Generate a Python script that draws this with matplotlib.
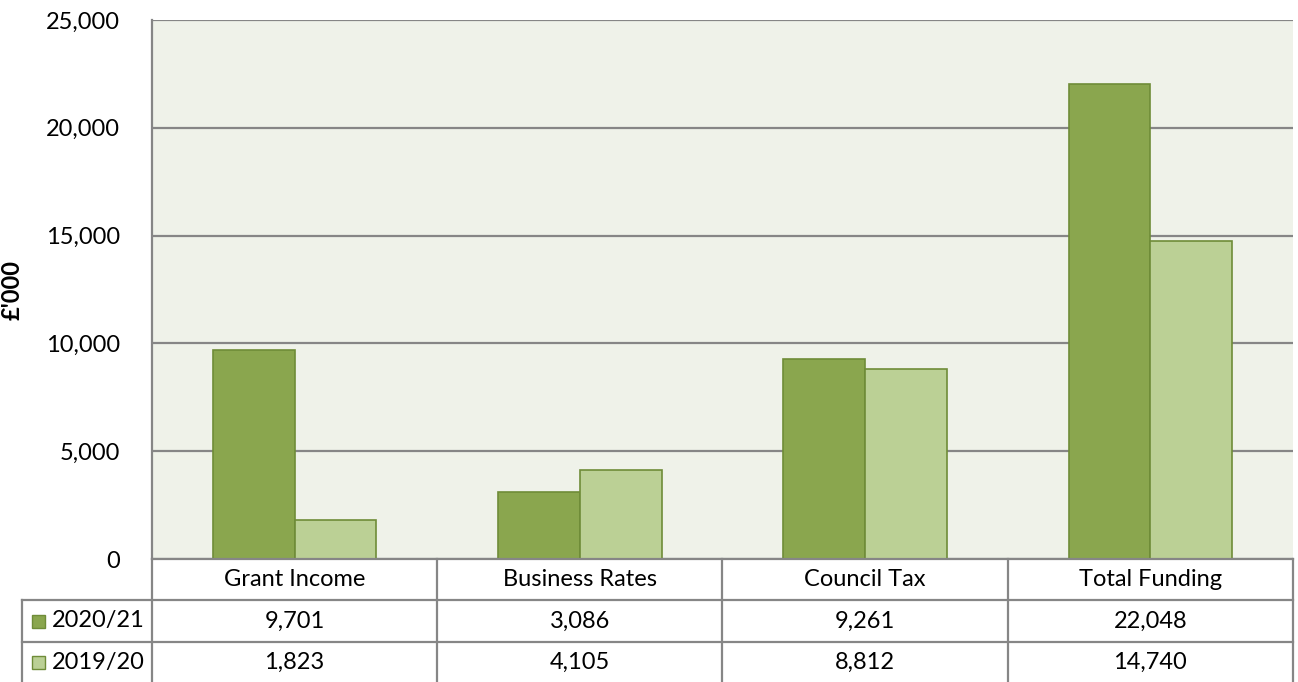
import numpy as np
import matplotlib.pyplot as plt
from matplotlib.patches import Rectangle

# chart data
categories = ['Grant Income', 'Business Rates', 'Council Tax', 'Total Funding']
series_names = ['2020/21', '2019/20']
values_2021 = [9701, 3086, 9261, 22048]
values_1920 = [1823, 4105, 8812, 14740]
y_ticks = [0, 5000, 10000, 15000, 20000, 25000]

dark_green = '#8AA64E'
light_green = '#BBD095'
bar_edge = '#6F8C38'
line_grey = '#868686'
plot_bg = '#EFF2E9'
fs = 17

plt.rcParams['font.family'] = ['Lato', 'DejaVu Sans']

W, H = 1298, 682
fig = plt.figure(figsize=(W / 100, H / 100), dpi=100)

# pixel layout of the plot area
px_left, px_right, px_top, px_bottom = 152, 1293, 20, 559
ax = fig.add_axes([px_left / W, 1 - px_bottom / H,
                   (px_right - px_left) / W, (px_bottom - px_top) / H])
ax.set_facecolor(plot_bg)

x = np.arange(len(categories))
bw = 0.287
ax.bar(x - bw / 2, values_2021, bw, color=dark_green, edgecolor=bar_edge, linewidth=1.2, zorder=3)
ax.bar(x + bw / 2, values_1920, bw, color=light_green, edgecolor=bar_edge, linewidth=1.2, zorder=3)

ax.set_xlim(-0.5, len(categories) - 0.5)
ax.set_ylim(0, 25000)
ax.set_yticks(y_ticks)
ax.set_yticklabels([f'{v:,}' for v in y_ticks], fontsize=fs, color='black')
ax.set_xticks([])
ax.tick_params(axis='y', length=0, pad=23)
ax.grid(axis='y', color=line_grey, linewidth=1.6, zorder=1)
for s in ['right', 'top', 'bottom']:
    ax.spines[s].set_visible(False)
ax.spines['left'].set_color(line_grey)
ax.spines['left'].set_linewidth(1.6)
ax.set_ylabel("£'000", fontsize=fs, fontweight='bold')
ax.yaxis.set_label_coords((24 - px_left) / (px_right - px_left), 0.5)

# data table below the plot
tbl_left, tbl_bottom = 22, 682
tax = fig.add_axes([tbl_left / W, 0, (px_right - tbl_left) / W, (tbl_bottom - px_bottom) / H])
unit = (px_right - px_left) / len(categories)
xl = -0.5 - (px_left - tbl_left) / unit
tax.set_xlim(xl, len(categories) - 0.5)
tax.set_ylim(tbl_bottom - px_bottom, 0)
tax.axis('off')

lkw = dict(color=line_grey, linewidth=1.6, clip_on=False)
row_y = [41, 83]  # pixel offsets of row lines below the plot
tax.plot([-0.5, len(categories) - 0.5], [0, 0], **lkw)
for ry in row_y:
    tax.plot([xl, len(categories) - 0.5], [ry, ry], **lkw)
tax.plot([xl, xl], [row_y[0], 123], **lkw)
for i in range(len(categories) + 1):
    tax.plot([i - 0.5, i - 0.5], [0, 123], **lkw)

row_mid = [20.5, 62, 103]
for i, c in enumerate(categories):
    tax.text(i, row_mid[0], c, ha='center', va='center', fontsize=fs)
    tax.text(i, row_mid[1], f'{values_2021[i]:,}', ha='center', va='center', fontsize=fs)
    tax.text(i, row_mid[2], f'{values_1920[i]:,}', ha='center', va='center', fontsize=fs)

key_w = 13 / unit
for name, col, ym in zip(series_names, [dark_green, light_green], row_mid[1:]):
    tax.add_patch(Rectangle((xl + 10 / unit, ym - 6.5), key_w, 13, facecolor=col,
                            edgecolor=bar_edge, linewidth=1, clip_on=False))
    tax.text(xl + 30 / unit, ym, name, ha='left', va='center', fontsize=fs)

fig.savefig('out.png', dpi=100)
